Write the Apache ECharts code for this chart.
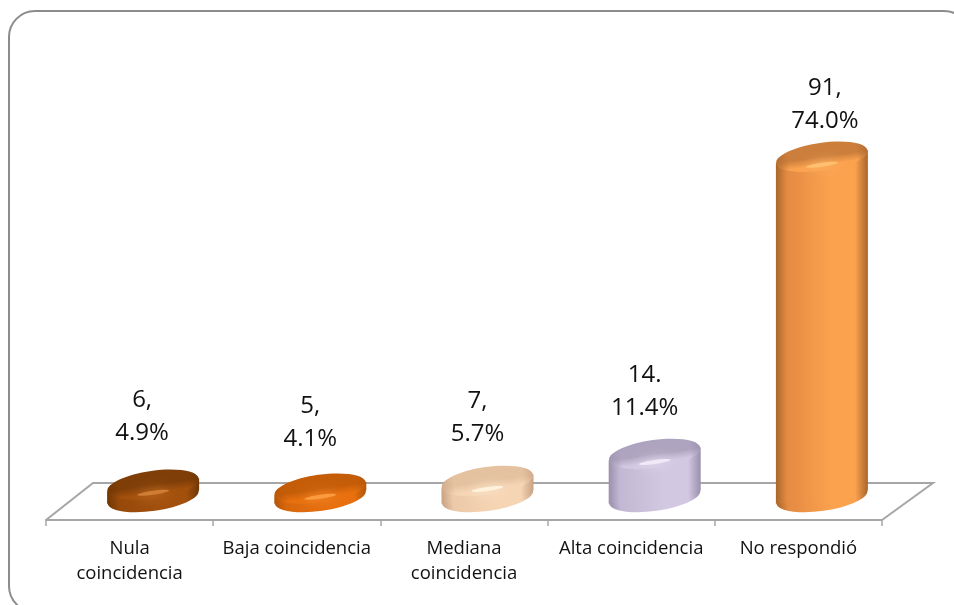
<!DOCTYPE html>
<html lang="en">
<head>
<meta charset="UTF-8">
<style>
  html, body { margin: 0; padding: 0; background: #fff; overflow: hidden; }
  #chart { width: 954px; height: 605px; }
</style>
<script src="https://cdn.jsdelivr.net/npm/echarts@6/dist/echarts.min.js"></script>
</head>
<body>
<div id="chart"></div>
<script>
const categories = ['Nula\ncoincidencia', 'Baja coincidencia', 'Mediana\ncoincidencia', 'Alta coincidencia', 'No respondió'];
const counts = [6, 5, 7, 14, 91];
const percents = ['4.9%', '4.1%', '5.7%', '11.4%', '74.0%'];
const separators = [',', ',', ',', '.', ','];

// edge, side, main, highlight and cap shades for each bar
const shades = [
  { dark: '#6f3604', side: '#96490a', mid: '#a3500c', light: '#cf7c34', cap: '#7f3e07' },
  { dark: '#b4560a', side: '#d8670c', mid: '#e8700e', light: '#fb9a3e', cap: '#c55d08' },
  { dark: '#c8a283', side: '#ecc9a8', mid: '#f6d5b5', light: '#fff2dc', cap: '#e4c2a0' },
  { dark: '#9b90ab', side: '#c2b8d3', mid: '#d2c8e2', light: '#efeaf6', cap: '#aea4bf' },
  { dark: '#a9662c', side: '#e48a42', mid: '#fba24f', light: '#ffc070', cap: '#cc7f3c' }
];
// label placement read per bar: gap above the bar top, sideways shift from its centre
const labelGap = [37, 35, 32, 31, 21];
const labelShift = [-11, -10, -10, -10, 3];

const depthX = 47, depthY = 37;
const halfW = 46, halfH = 14, tilt = 8 * Math.PI / 180;
const rise = halfW * Math.sin(tilt);

function sideGradient(s) {
  return new echarts.graphic.LinearGradient(0, 0, 1, 0, [
    { offset: 0, color: s.dark },
    { offset: 0.12, color: s.side },
    { offset: 0.6, color: s.mid },
    { offset: 0.86, color: s.mid },
    { offset: 1, color: s.dark }
  ]);
}

function renderFloor(params, api) {
  const c = params.coordSys;
  const bottom = c.y + c.height, right = c.x + c.width;
  return {
    type: 'polyline',
    silent: true,
    shape: { points: [
      [c.x, bottom],
      [c.x + depthX, bottom - depthY],
      [right + depthX + 4, bottom - depthY],
      [right, bottom]
    ] },
    style: { stroke: '#a6a6a6', lineWidth: 2, fill: null }
  };
}

function renderBar(params, api) {
  const i = api.value(0);
  const s = shades[i];
  const base = api.coord([i, 0]);
  const top = api.coord([i, api.value(1)]);
  const cx = base[0] + 23.5;
  const bottomY = base[1] - 23;
  const topY = top[1] - 12;
  const fill = sideGradient(s);
  const disc = (cy, a, b, style) => ({
    type: 'ellipse',
    shape: { cx: cx, cy: cy, rx: a, ry: b },
    rotation: tilt,
    originX: cx,
    originY: cy,
    style: style
  });
  return {
    type: 'group',
    children: [
      disc(bottomY, halfW, halfH, { fill: fill }),
      {
        type: 'polygon',
        shape: { points: [
          [cx - halfW, topY + rise],
          [cx + halfW, topY - rise],
          [cx + halfW, bottomY - rise],
          [cx - halfW, bottomY + rise]
        ] },
        style: { fill: fill }
      },
      // top face fades from the cap shade into the bevel
      disc(topY, halfW, halfH, {
        fill: new echarts.graphic.LinearGradient(0, 0, 0, 1, [
          { offset: 0, color: s.cap },
          { offset: 0.5, color: s.cap },
          { offset: 0.8, color: s.mid },
          { offset: 1, color: s.mid }
        ])
      }),
      // darkened rim at both ends of the top face
      disc(topY, halfW, halfH, {
        fill: new echarts.graphic.LinearGradient(0, 0, 1, 0, [
          { offset: 0, color: s.dark + 'aa' },
          { offset: 0.14, color: s.dark + '00' },
          { offset: 0.88, color: s.dark + '00' },
          { offset: 1, color: s.dark + 'aa' }
        ])
      }),
      // soft highlight on the bevel
      disc(topY + 8, 16, 2, { fill: s.light, shadowBlur: 12, shadowColor: s.light })
    ]
  };
}

const chart = echarts.init(document.getElementById('chart'), null, { renderer: 'canvas' });
chart.setOption({
  animation: false,
  graphic: [{
    type: 'rect',
    silent: true,
    z: -1,
    shape: { x: 9, y: 11, width: 961, height: 601, r: 26 },
    style: { fill: '#fff', stroke: '#8c8c8c', lineWidth: 2 }
  }],
  grid: { left: 46, right: 72, top: 134, bottom: 85 },
  xAxis: {
    type: 'category',
    data: categories,
    boundaryGap: true,
    axisLine: { lineStyle: { color: '#a6a6a6', width: 2 } },
    axisTick: { show: true, length: 6, alignWithLabel: false, lineStyle: { color: '#a6a6a6', width: 1.5 } },
    axisLabel: { interval: 0, color: '#111', fontFamily: 'Open Sans', fontSize: 18.5, lineHeight: 25, margin: 16 }
  },
  yAxis: { type: 'value', min: 0, max: 100, show: false, splitLine: { show: false } },
  series: [
    {
      type: 'custom',
      z: 1,
      silent: true,
      renderItem: renderFloor,
      data: [[0, 0]],
      encode: { x: 0, y: 1 }
    },
    {
      type: 'custom',
      z: 2,
      renderItem: renderBar,
      data: counts.map((v, i) => [i, v]),
      encode: { x: 0, y: 1 }
    },
    {
      type: 'custom',
      z: 3,
      silent: true,
      data: counts.map((v, i) => [i, v]),
      encode: { x: 0, y: 1 },
      renderItem: function (params, api) {
        const i = api.value(0);
        const p = api.coord([i, api.value(1)]);
        return {
          type: 'text',
          style: {
            text: counts[i] + separators[i] + '\n' + percents[i],
            x: p[0] + 23.5 + labelShift[i],
            y: p[1] - 27 - labelGap[i] - 16,
            align: 'center',
            verticalAlign: 'middle',
            fontFamily: 'Open Sans',
            fontSize: 24,
            lineHeight: 33,
            fill: '#111'
          }
        };
      }
    }
  ]
});
</script>
</body>
</html>
